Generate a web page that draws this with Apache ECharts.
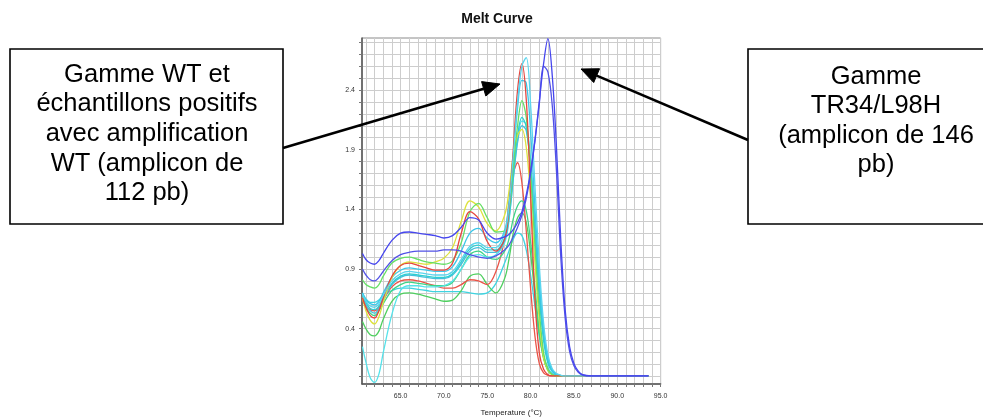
<!DOCTYPE html>
<html>
<head>
<meta charset="utf-8">
<script src="https://cdn.jsdelivr.net/npm/echarts@6/dist/echarts.min.js"></script>
<style>
  html, body { margin: 0; padding: 0; background: #ffffff; }
  #chart { width: 983px; height: 419px; }
</style>
</head>
<body>
<div id="chart"></div>
<script>
// Melt curve: -dF/dT against temperature for each well
const temperature = [60.6, 61, 61.5, 62, 62.5, 63, 64, 65, 66, 67, 68, 69, 70, 71, 72, 73, 74, 75, 76, 77,
  77.5, 78, 78.5, 79, 79.5, 80, 80.5, 81, 81.5, 82, 82.5, 83, 83.5, 84, 84.5, 85, 85.5, 86, 87, 89, 91, 93.6];

// TR34/L98H standards (146 bp amplicon)
const tr34A = [1.03, 0.98, 0.95, 0.94, 0.97, 1.03, 1.14, 1.20, 1.21, 1.20, 1.19, 1.18, 1.16, 1.18, 1.25, 1.33, 1.31, 1.20, 1.15, 1.17,
  1.19, 1.23, 1.29, 1.38, 1.52, 1.72, 1.98, 2.30, 2.62, 2.83, 2.52, 1.90, 1.12, 0.55, 0.25, 0.11, 0.045, 0.015, 0.005, 0.005, 0.005, 0.005];
const tr34B = [0.90, 0.85, 0.81, 0.80, 0.83, 0.88, 0.97, 1.02, 1.04, 1.05, 1.05, 1.05, 1.06, 1.06, 1.05, 1.02, 1.00, 0.99, 1.01, 1.06,
  1.10, 1.17, 1.25, 1.35, 1.49, 1.70, 1.97, 2.28, 2.60, 2.55, 2.27, 1.70, 0.98, 0.48, 0.21, 0.09, 0.035, 0.012, 0.005, 0.005, 0.005, 0.005];

// WT standards and positive samples (112 bp amplicon)
const wtRed1 = [0.66, 0.58, 0.51, 0.49, 0.55, 0.66, 0.84, 0.93, 0.95, 0.93, 0.91, 0.89, 0.89, 0.95, 1.20, 1.38, 1.32, 1.13, 1.05, 1.15,
  1.40, 1.90, 2.40, 2.62, 2.32, 1.52, 0.65, 0.20, 0.06, 0.015, 0.005, 0.005, 0.005, 0.005, 0.005, 0.005, 0.005, 0.005, 0.005, 0.005, 0.005, 0.005];
const wtGreen1 = [0.81, 0.77, 0.75, 0.74, 0.77, 0.84, 0.95, 0.99, 1.00, 0.98, 0.96, 0.95, 0.94, 0.97, 1.12, 1.38, 1.45, 1.33, 1.21, 1.22,
  1.38, 1.75, 2.10, 2.31, 2.17, 1.70, 1.10, 0.56, 0.20, 0.06, 0.015, 0.005, 0.005, 0.005, 0.005, 0.005, 0.005, 0.005, 0.005, 0.005, 0.005, 0.005];
const wtYellow = [0.66, 0.55, 0.47, 0.44, 0.50, 0.62, 0.83, 0.93, 0.96, 0.95, 0.94, 0.96, 0.99, 1.08, 1.30, 1.47, 1.42, 1.28, 1.22, 1.35,
  1.55, 1.85, 2.02, 2.07, 1.92, 1.50, 0.95, 0.47, 0.16, 0.05, 0.015, 0.005, 0.005, 0.005, 0.005, 0.005, 0.005, 0.005, 0.005, 0.005, 0.005, 0.005];
const wtCyanA = [0.70, 0.64, 0.61, 0.60, 0.63, 0.70, 0.83, 0.89, 0.91, 0.90, 0.89, 0.88, 0.88, 0.92, 1.05, 1.20, 1.24, 1.16, 1.12, 1.22,
  1.45, 1.85, 2.25, 2.48, 2.46, 2.05, 1.42, 0.82, 0.38, 0.14, 0.05, 0.015, 0.005, 0.005, 0.005, 0.005, 0.005, 0.005, 0.005, 0.005, 0.005, 0.005];
const wtCyanB = [0.69, 0.63, 0.59, 0.58, 0.61, 0.68, 0.80, 0.86, 0.88, 0.87, 0.86, 0.85, 0.85, 0.88, 0.98, 1.09, 1.12, 1.08, 1.08, 1.20,
  1.42, 1.85, 2.30, 2.60, 2.67, 2.28, 1.60, 0.94, 0.45, 0.18, 0.065, 0.025, 0.01, 0.005, 0.005, 0.005, 0.005, 0.005, 0.005, 0.005, 0.005, 0.005];
const wtCyanC = [0.68, 0.62, 0.57, 0.56, 0.59, 0.66, 0.78, 0.84, 0.86, 0.85, 0.84, 0.83, 0.83, 0.86, 0.96, 1.07, 1.10, 1.06, 1.06, 1.16,
  1.35, 1.70, 2.02, 2.17, 2.09, 1.74, 1.18, 0.66, 0.30, 0.11, 0.04, 0.015, 0.005, 0.005, 0.005, 0.005, 0.005, 0.005, 0.005, 0.005, 0.005, 0.005];
const wtCyanD = [0.67, 0.60, 0.55, 0.53, 0.57, 0.64, 0.77, 0.83, 0.85, 0.84, 0.83, 0.82, 0.82, 0.85, 0.94, 1.05, 1.08, 1.04, 1.04, 1.14,
  1.32, 1.65, 1.96, 2.10, 2.06, 1.76, 1.24, 0.72, 0.34, 0.13, 0.05, 0.015, 0.005, 0.005, 0.005, 0.005, 0.005, 0.005, 0.005, 0.005, 0.005, 0.005];
const wtCyanDeep = [0.25, 0.12, -0.01, -0.05, 0.02, 0.20, 0.52, 0.72, 0.76, 0.76, 0.75, 0.75, 0.76, 0.80, 0.90, 1.00, 1.02, 1.00, 1.02, 1.12,
  1.30, 1.66, 1.98, 2.14, 2.11, 1.82, 1.31, 0.78, 0.38, 0.15, 0.055, 0.02, 0.008, 0.005, 0.005, 0.005, 0.005, 0.005, 0.005, 0.005, 0.005, 0.005];
const wtGreen2 = [0.66, 0.58, 0.53, 0.51, 0.55, 0.61, 0.72, 0.77, 0.79, 0.78, 0.77, 0.76, 0.76, 0.79, 0.90, 1.02, 1.05, 1.00, 0.98, 1.05,
  1.15, 1.32, 1.43, 1.47, 1.39, 1.13, 0.75, 0.39, 0.16, 0.05, 0.015, 0.005, 0.005, 0.005, 0.005, 0.005, 0.005, 0.005, 0.005, 0.005, 0.005, 0.005];
const wtRed2 = [0.64, 0.59, 0.56, 0.55, 0.58, 0.64, 0.75, 0.80, 0.81, 0.80, 0.78, 0.76, 0.74, 0.74, 0.77, 0.81, 0.80, 0.77, 0.88, 1.15,
  1.45, 1.70, 1.79, 1.62, 1.22, 0.74, 0.34, 0.11, 0.03, 0.01, 0.005, 0.005, 0.005, 0.005, 0.005, 0.005, 0.005, 0.005, 0.005, 0.005, 0.005, 0.005];
const wtCyanF = [0.70, 0.65, 0.62, 0.62, 0.64, 0.68, 0.72, 0.74, 0.74, 0.73, 0.72, 0.71, 0.71, 0.71, 0.71, 0.70, 0.69, 0.70, 0.78, 0.95,
  1.05, 1.15, 1.20, 1.18, 1.06, 0.85, 0.59, 0.34, 0.17, 0.07, 0.025, 0.01, 0.005, 0.005, 0.005, 0.005, 0.005, 0.005, 0.005, 0.005, 0.005, 0.005];
const wtGreen3 = [0.46, 0.40, 0.35, 0.34, 0.38, 0.48, 0.63, 0.69, 0.70, 0.69, 0.67, 0.65, 0.63, 0.64, 0.72, 0.84, 0.86, 0.77, 0.70, 0.82,
  0.98, 1.20, 1.33, 1.37, 1.29, 1.03, 0.68, 0.36, 0.15, 0.05, 0.015, 0.005, 0.005, 0.005, 0.005, 0.005, 0.005, 0.005, 0.005, 0.005, 0.005, 0.005];

// Axis tick labels
const xTickLabels = [65, 70, 75, 80, 85, 90, 95];
const yTickLabels = [0.4, 0.9, 1.4, 1.9, 2.4];

const curves = [
  { name: 'WT cyan F', values: wtCyanF, color: '#3fd3e0' },
  { name: 'WT green 3', values: wtGreen3, color: '#4fcf5f' },
  { name: 'WT red 2', values: wtRed2, color: '#ea5448' },
  { name: 'WT green 2', values: wtGreen2, color: '#3fd486' },
  { name: 'WT cyan deep', values: wtCyanDeep, color: '#55e2ea' },
  { name: 'WT cyan D', values: wtCyanD, color: '#45bfdc' },
  { name: 'WT cyan C', values: wtCyanC, color: '#2fcfd2' },
  { name: 'WT cyan A', values: wtCyanA, color: '#3cc6e8' },
  { name: 'WT yellow', values: wtYellow, color: '#dde23c' },
  { name: 'WT green 1', values: wtGreen1, color: '#66df66' },
  { name: 'WT red 1', values: wtRed1, color: '#e6463e' },
  { name: 'WT cyan B', values: wtCyanB, color: '#5ad5ee' },
  { name: 'TR34 B', values: tr34B, color: '#5252e6' },
  { name: 'TR34 A', values: tr34A, color: '#4646ee' }
];

// Minor grid every 1 °C and every 0.1 units
const xGridTicks = [];
for (let t = 61; t <= 95; t++) xGridTicks.push(t);
const yGridTicks = [];
for (let k = 0; k <= 28; k++) yGridTicks.push(Math.round(k * 10) / 100);

const FONT = '"Liberation Sans", Arial, sans-serif';

// Callout arrow: shaft plus filled head
function arrow(x1, y1, x2, y2) {
  const dx = x2 - x1, dy = y2 - y1;
  const len = Math.sqrt(dx * dx + dy * dy);
  const ux = dx / len, uy = dy / len;
  const headLen = 17, headHalf = 7.5;
  const bx = x2 - ux * headLen, by = y2 - uy * headLen;
  const nx = -uy, ny = ux;
  return [
    { type: 'polyline', shape: { points: [[x1, y1], [bx, by]] },
      style: { stroke: '#000', lineWidth: 2.6, fill: null }, z: 100 },
    { type: 'polygon', shape: { points: [[x2, y2], [bx + nx * headHalf, by + ny * headHalf], [bx - nx * headHalf, by - ny * headHalf]] },
      style: { fill: '#000', stroke: '#000', lineWidth: 1 }, z: 100 }
  ];
}

const chart = echarts.init(document.getElementById('chart'), null, { renderer: 'canvas' });

chart.setOption({
  animation: false,
  backgroundColor: '#ffffff',
  title: {
    text: 'Melt Curve',
    left: 492,
    top: 7,
    textAlign: 'center',
    textStyle: { fontSize: 14, fontWeight: 'bold', color: '#111', fontFamily: FONT }
  },
  grid: {
    left: 362, right: 322.4, top: 38, bottom: 35,
    outerBoundsMode: 'none',
    containLabel: false,
    show: true, borderColor: '#8a8a8a', borderWidth: 1, backgroundColor: 'transparent'
  },
  xAxis: {
    type: 'value',
    min: 60.55,
    max: 95,
    name: 'Temperature (°C)',
    nameLocation: 'middle',
    nameGap: 25,
    nameTextStyle: { fontSize: 8, color: '#222', fontFamily: FONT },
    axisLine: { show: true, onZero: false, lineStyle: { color: '#555', width: 1.5 } },
    axisTick: { show: true, length: 3, customValues: xGridTicks, lineStyle: { color: '#777' } },
    axisLabel: {
      customValues: xTickLabels, fontSize: 7, color: '#333', margin: 9, fontFamily: FONT,
      formatter: v => v.toFixed(1)
    },
    splitLine: { show: true, lineStyle: { color: '#cdcdcd', width: 1 } }
  },
  yAxis: {
    type: 'value',
    min: -0.063,
    max: 2.835,
    axisLine: { show: true, onZero: false, lineStyle: { color: '#555', width: 1.5 } },
    axisTick: { show: true, length: 3, customValues: yGridTicks, lineStyle: { color: '#777' } },
    axisLabel: {
      customValues: yTickLabels, fontSize: 7, color: '#333', margin: 7, fontFamily: FONT,
      formatter: v => v.toFixed(1)
    },
    splitLine: { show: true, lineStyle: { color: '#cdcdcd', width: 1 } }
  },
  series: curves.map(c => ({
    name: c.name,
    type: 'line',
    data: temperature.map((t, i) => [t, c.values[i]]),
    showSymbol: false,
    smooth: 0.35,
    clip: true,
    lineStyle: { color: c.color, width: 1.3 },
    itemStyle: { color: c.color },
    emphasis: { disabled: true }
  })),
  graphic: [
    { type: 'rect', shape: { x: 10, y: 49, width: 273, height: 175 },
      style: { fill: '#fff', stroke: '#000', lineWidth: 1.6 }, z: 90 },
    { type: 'text', z: 95,
      style: {
        text: 'Gamme WT et\néchantillons positifs\navec amplification\nWT (amplicon de\n112 pb)',
        x: 147, y: 134, align: 'center', verticalAlign: 'middle',
        fontSize: 25.5, lineHeight: 29.6, fontFamily: FONT, fill: '#000'
      } },
    { type: 'rect', shape: { x: 748, y: 49, width: 262, height: 175 },
      style: { fill: '#fff', stroke: '#000', lineWidth: 1.6 }, z: 90 },
    { type: 'text', z: 95,
      style: {
        text: 'Gamme\nTR34/L98H\n(amplicon de 146\npb)',
        x: 876, y: 121, align: 'center', verticalAlign: 'middle',
        fontSize: 25.5, lineHeight: 29.2, fontFamily: FONT, fill: '#000'
      } },
    ...arrow(283, 148, 500, 84),
    ...arrow(748, 140, 581, 69)
  ]
});
</script>
</body>
</html>
